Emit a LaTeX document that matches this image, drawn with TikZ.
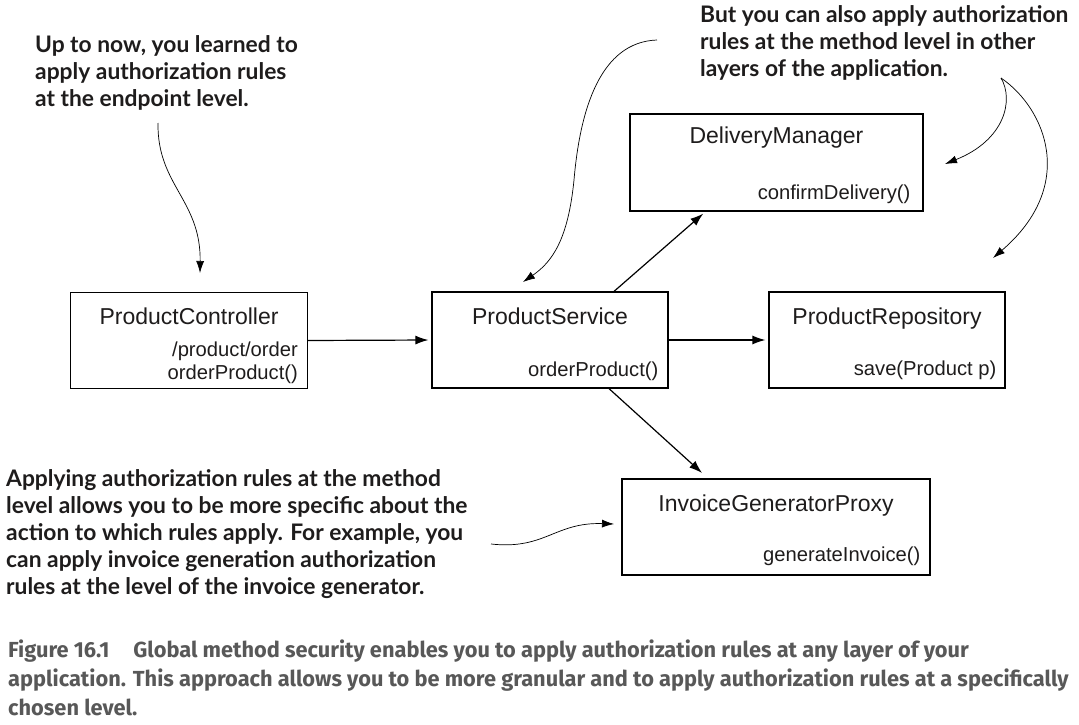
\documentclass[tikz,border=0pt]{standalone}
\usepackage{fontspec}
\setmainfont{Liberation Sans}
\newfontfamily\annfont{Lato}
\newfontfamily\capfont{Fira Sans}
\usetikzlibrary{arrows.meta,calc}
\definecolor{capgray}{RGB}{88,88,88}
\definecolor{ink}{RGB}{30,28,28}
\begin{document}
\begin{tikzpicture}[x=1pt,y=-1pt,
  box/.style={draw=black, line width=1.2pt, minimum width=#1, minimum height=96pt, inner sep=0pt},
  title/.style={font=\fontsize{23}{26}\selectfont, anchor=base, inner sep=0pt, text=ink},
  meth/.style={font=\fontsize{20.2}{24}\selectfont, anchor=base east, inner sep=0pt, text=ink},
  conn/.style={line width=1.2pt, shorten >=3pt, -{Latex[length=13pt,width=9pt]}},
  note/.style={font=\annfont\bfseries\fontsize{22.8}{27}\selectfont, anchor=north west, inner sep=0pt, align=left, text=ink},
  ann/.style={line width=0.7pt, -{Latex[length=12pt,width=8pt]}},
  captext/.style={font=\capfont\bfseries\fontsize{21.8}{29}\selectfont, anchor=base west, inner sep=0pt, text=capgray},
]
\useasboundingbox (0,0) rectangle (1079,725);

% boxes
\node[box=237pt] (pc) at (189,340.5) {};
\node[box=236pt] (ps) at (550,340) {};
\node[box=236pt] (pr) at (887,340) {};
\node[box=293pt, minimum height=97pt] (dm) at (776.5,162.5) {};
\node[box=308pt] (ig) at (776,527) {};

% titles
\node[title] (pct) at ($(pc.north)+(0,33)$) {ProductController};
\node[title] (pst) at ($(ps.north)+(0,33)$) {ProductService};
\node[title] (prt) at ($(pr.north)+(0,33)$) {ProductRepository};
\node[title] (dmt) at ($(dm.north)+(0,30)$) {DeliveryManager};
\node[title] (igt) at ($(ig.north)+(0,33)$) {InvoiceGeneratorProxy};

% methods
\node[meth] (pcm1) at ($(pc.north east)+(-10,65)$) {/product/order};
\node[meth] (pcm2) at ($(pc.north east)+(-10,88)$) {orderProduct()};
\node[meth] (psm) at ($(ps.north east)+(-10,85)$) {orderProduct()};
\node[meth] (prm) at ($(pr.north east)+(-9,84)$) {save(Product p)};
\node[meth] (dmm) at ($(dm.north east)+(-13,86)$) {confirmDelivery()};
\node[meth] (igm) at ($(ig.north east)+(-10,83)$) {generateInvoice()};

% connectors
\draw[conn] (pc.east) -- (ps.west);
\draw[conn] (ps.east) -- (pr.west);
\draw[conn] ([xshift=64pt]ps.north) -- ([xshift=-71pt]dm.south);
\draw[conn, shorten >=8pt] ([xshift=59pt]ps.south) -- ([xshift=-68pt]ig.north);

% annotations
\node[note] (n1) at (35,35) {Up to now, you learned to\\apply authorization rules\\at the endpoint level.};
\node[note] (n2) at (700,5) {But you can also apply authorization\\rules at the method level in other\\layers of the application.};
\node[note] (n3) at (6,469) {Applying authorization rules at the method\\level allows you to be more specific about the\\action to which rules apply. For example, you\\can apply invoice generation authorization\\rules at the level of the invoice generator.};

\coordinate (a1s) at (158,123);
\coordinate (a1e) at (200,273);
\draw[ann] (a1s) .. controls (157,185) and (201,200) .. (a1e);

\coordinate (a2s) at (657,40);
\coordinate (a2e) at (523,282);
\draw[ann] (a2s) .. controls (600,42) and (580,110) .. (574,180) .. controls (568,240) and (552,262) .. (a2e);

\coordinate (a3s) at (1001,78);
\coordinate (a3e) at (945,164);
\draw[ann] (a3s) .. controls (1014,100) and (1005,140) .. (a3e);

\coordinate (a4e) at (993,258);
\draw[ann] (a3s) .. controls (1045,108) and (1078,185) .. (a4e);

\coordinate (a5s) at (491,544);
\coordinate (a5e) at (614,524);
\draw[ann] (a5s) .. controls (545,550) and (555,522) .. (a5e);

% caption
\node[captext] (c1) at (8,657) {Figure 16.1\hspace{24pt}Global method security enables you to apply authorization rules at any layer of your};
\node[captext] (c2) at (8,686) {application. This approach allows you to be more granular and to apply authorization rules at a specifically};
\node[captext] (c3) at (8,715) {chosen level.};
\end{tikzpicture}
\end{document}
